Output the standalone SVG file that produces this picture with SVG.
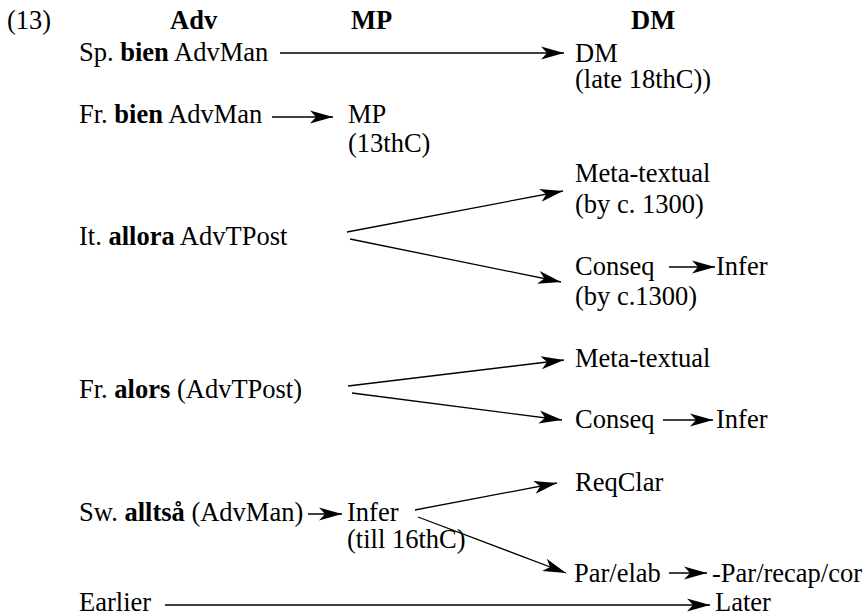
<svg xmlns="http://www.w3.org/2000/svg" width="865" height="615" viewBox="0 0 865 615">
<style>
text { font-family: "Liberation Serif", "Times New Roman", "DejaVu Serif", serif; font-size: 26.5px; fill: #000; }
.b { font-weight: bold; }
.c line { stroke: #000; stroke-width: 1.3; marker-end: url(#ah); }
</style>
<defs>
<marker id="ah" markerUnits="userSpaceOnUse" markerWidth="24" markerHeight="14" refX="23" refY="6.5" orient="auto" viewBox="0 0 24 13">
<path d="M0,0 L23,6.5 L0,13 L6,6.5 Z" fill="#000"/>
</marker>
</defs>
<rect width="865" height="615" fill="#fff"/>
<g id="headers" font-family="Liberation Serif, serif">
<text x="7" y="29">(13)</text>
<text x="170" y="29" class="b">Adv</text>
<text x="351" y="29" class="b">MP</text>
<text x="631" y="29" class="b">DM</text>
</g>
<g id="sp-bien"><text x="79" y="61">Sp. <tspan class="b">bien</tspan> AdvMan</text></g>
<g id="dm-late"><text x="575" y="62">DM</text><text x="575" y="88">(late 18thC))</text></g>
<g id="fr-bien"><text x="79" y="123">Fr. <tspan class="b">bien</tspan> AdvMan</text></g>
<g id="mp-13"><text x="348" y="123">MP</text><text x="348" y="152">(13thC)</text></g>
<g id="it-allora"><text x="79" y="245">It. <tspan class="b">allora</tspan> AdvTPost</text></g>
<g id="meta1"><text x="575" y="182">Meta-textual</text><text x="575" y="213">(by c. 1300)</text></g>
<g id="conseq1"><text x="575" y="275">Conseq</text><text x="575" y="305">(by c.1300)</text></g>
<g id="infer1"><text x="716" y="275">Infer</text></g>
<g id="fr-alors"><text x="79" y="398">Fr. <tspan class="b">alors</tspan> (AdvTPost)</text></g>
<g id="meta2"><text x="575" y="367">Meta-textual</text></g>
<g id="conseq2"><text x="575" y="428">Conseq</text></g>
<g id="infer2"><text x="716" y="428">Infer</text></g>
<g id="sw-alltsa"><text x="79" y="521">Sw. <tspan class="b">alltså</tspan> (AdvMan)</text></g>
<g id="infer-sw"><text x="347" y="521">Infer</text><text x="347" y="548">(till 16thC)</text></g>
<g id="reqclar"><text x="575" y="491">ReqClar</text></g>
<g id="parelab"><text x="574" y="582">Par/elab</text></g>
<g id="parrecap"><text x="712" y="582">-Par/recap/cor</text></g>
<g id="earlier"><text x="79" y="611">Earlier</text></g>
<g id="later"><text x="715" y="611">Later</text></g>
<g id="connectors" class="c">
<line x1="280" y1="53" x2="564" y2="53"/>
<line x1="272" y1="117" x2="333" y2="117"/>
<line x1="347" y1="232" x2="563" y2="191"/>
<line x1="350" y1="239" x2="561" y2="282"/>
<line x1="669" y1="267" x2="715" y2="267"/>
<line x1="348" y1="386" x2="564" y2="360"/>
<line x1="352" y1="393" x2="562" y2="420"/>
<line x1="663" y1="420" x2="713" y2="420"/>
<line x1="308" y1="514" x2="342" y2="514"/>
<line x1="415" y1="510" x2="557" y2="483"/>
<line x1="418" y1="517" x2="566" y2="573"/>
<line x1="669" y1="573" x2="707" y2="573"/>
<line x1="165" y1="605" x2="710" y2="605"/>
</g>
</svg>
